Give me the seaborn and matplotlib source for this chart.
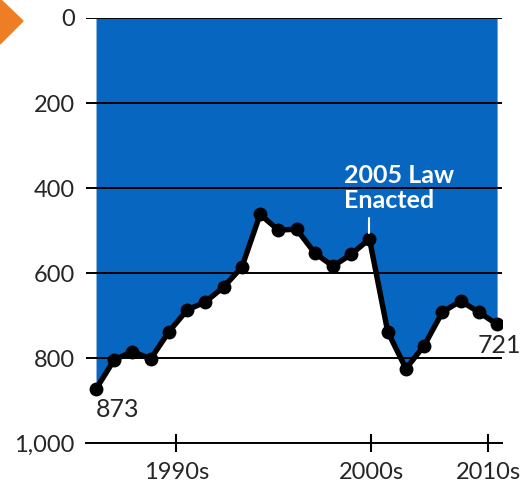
import matplotlib.pyplot as plt
import matplotlib.patches as mpatches
import numpy as np
import pandas as pd
import seaborn as sns

# Data
years = list(range(1990, 2013))
deaths = [873, 804, 785, 802, 738, 687, 668, 633, 586, 462, 499, 497,
          553, 584, 556, 520, 738, 825, 771, 692, 666, 692, 721]
y_ticks = [0, 200, 400, 600, 800, 1000]
y_labels = ["0", "200", "400", "600", "800", "1,000"]
x_ticks = [1994.4, 2005.1, 2011.5]
x_labels = ["1990s", "2000s", "2010s"]

df = pd.DataFrame({"year": years, "deaths": deaths})

sns.set_style("white")
plt.rcParams["font.family"] = ["Lato", "DejaVu Sans"]

W, H = 525, 486
fig = plt.figure(figsize=(W / 100, H / 100), dpi=100)
ax = fig.add_axes([86 / W, 1 - 443 / H, (502 - 86) / W, (443 - 18) / H])

blue = "#0767C0"
ax.fill_between(df["year"], 0, df["deaths"], color=blue, linewidth=0, zorder=1)
sns.lineplot(data=df, x="year", y="deaths", color="black", linewidth=3.9,
             marker="o", markersize=10, markeredgewidth=0, ax=ax, zorder=4)

ax.set_xlim(1989.45, 2012.27)
ax.set_ylim(1000, 0)
ax.set_yticks(y_ticks)
ax.set_yticklabels(y_labels, fontsize=17)
ax.set_xticks(x_ticks)
ax.set_xticklabels(x_labels, fontsize=17)
ax.tick_params(axis="y", left=False, length=0, pad=8)
ax.tick_params(axis="x", bottom=True, direction="inout", length=13, width=1.5,
               pad=7, color="black")
ax.set_axisbelow(False)
ax.yaxis.grid(True, color="black", linewidth=1.4)
ax.xaxis.grid(False)
for s in ["top", "left", "right"]:
    ax.spines[s].set_visible(False)
ax.spines["bottom"].set_visible(True)
ax.spines["bottom"].set_color("black")
ax.spines["bottom"].set_linewidth(1.4)
ax.set_xlabel("")
ax.set_ylabel("")

# annotations
ax.text(2003.6, 400, "2005 Law\nEnacted", color="white", fontsize=18,
        fontweight="bold", ha="left", va="center", linespacing=1.15, zorder=5)
ax.plot([2005, 2005], [470, 505], color="white", linewidth=1.5, zorder=5)
ax.text(1990, 893, "873", fontsize=18, ha="left", va="top", zorder=5)
ax.text(2013.3, 744, "721", fontsize=18, ha="right", va="top", zorder=5,
        clip_on=False)

# orange marker at top left
tri = mpatches.Polygon([(0, H + 1), (23, H - 21), (0, H - 44)], closed=True,
                       transform=None, color="#EE7D23")
fig.patches.append(tri)

fig.savefig("out.png", dpi=100)
